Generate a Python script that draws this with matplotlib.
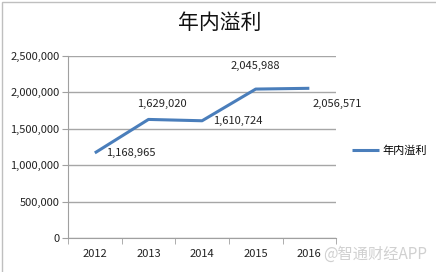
import matplotlib
matplotlib.use("Agg")
import matplotlib.pyplot as plt
from matplotlib.ticker import FuncFormatter
from matplotlib.patches import Rectangle

plt.rcParams['font.family'] = ['Noto Sans CJK SC', 'DejaVu Sans']

years = ['2012', '2013', '2014', '2015', '2016']
values = [1168965, 1629020, 1610724, 2045988, 2056571]
series_name = '年内溢利'
title = '年内溢利'
yticks = [0, 500000, 1000000, 1500000, 2000000, 2500000]

fig = plt.figure(figsize=(4.36, 2.72), dpi=100)
fig.patches.append(Rectangle((0.005, -0.1), 1.2, 1.093, transform=fig.transFigure,
                             fill=False, edgecolor='#BFBFBF', linewidth=1.0))
ax = fig.add_axes([0.156, 0.125, 0.615, 0.669])
x = list(range(len(years)))
line, = ax.plot(x, values, color='#4A7EBB', linewidth=2.2, solid_capstyle='butt',
                label=series_name)
ax.set_xlim(-0.5, len(years) - 0.5)
ax.set_ylim(0, 2500000)
ax.set_yticks(yticks)
ax.yaxis.set_major_formatter(FuncFormatter(lambda v, p: f'{int(v):,}'))
ax.set_xticks(x)
ax.set_xticklabels(years)
ax.set_xticks([i - 0.5 for i in range(len(years) + 1)], minor=True)
ax.tick_params(axis='x', which='major', length=0, pad=8, labelsize=8, labelcolor='#222222')
ax.tick_params(axis='x', which='minor', length=4, color='#A0A0A0', direction='out')
ax.tick_params(axis='y', length=4, color='#A0A0A0', labelsize=8, labelcolor='#222222', pad=2)
ax.grid(axis='y', color='#A6A6A6', linewidth=1.0)
ax.set_axisbelow(True)
for s in ['top', 'right']:
    ax.spines[s].set_visible(False)
ax.spines['left'].set_color('#A0A0A0')
ax.spines['bottom'].set_color('#A0A0A0')

offsets = [(8, 0, 'left'), (10, 11, 'center'), (8, 0, 'left'), (0, 16.5, 'center'), (2, -11.5, 'left')]
for i, v in enumerate(values):
    dx, dy, ha = offsets[i]
    ax.annotate(f'{v:,}', (i, v), xytext=(dx, dy), textcoords='offset points',
                ha=ha, va='center', fontsize=8, color='#222222')

fig.text(0.505, 0.915, title, ha='center', va='center', fontsize=15, color='#111111')
leg = fig.legend(handles=[line], loc='center left', bbox_to_anchor=(0.785, 0.445),
                 frameon=False, fontsize=8, handlelength=2.4, handletextpad=0.3)
fig.text(0.98, 0.065, '@智通财经APP', ha='right', va='center', fontsize=11,
         color='#D0D0D0')
fig.savefig('out.png', dpi=100)
